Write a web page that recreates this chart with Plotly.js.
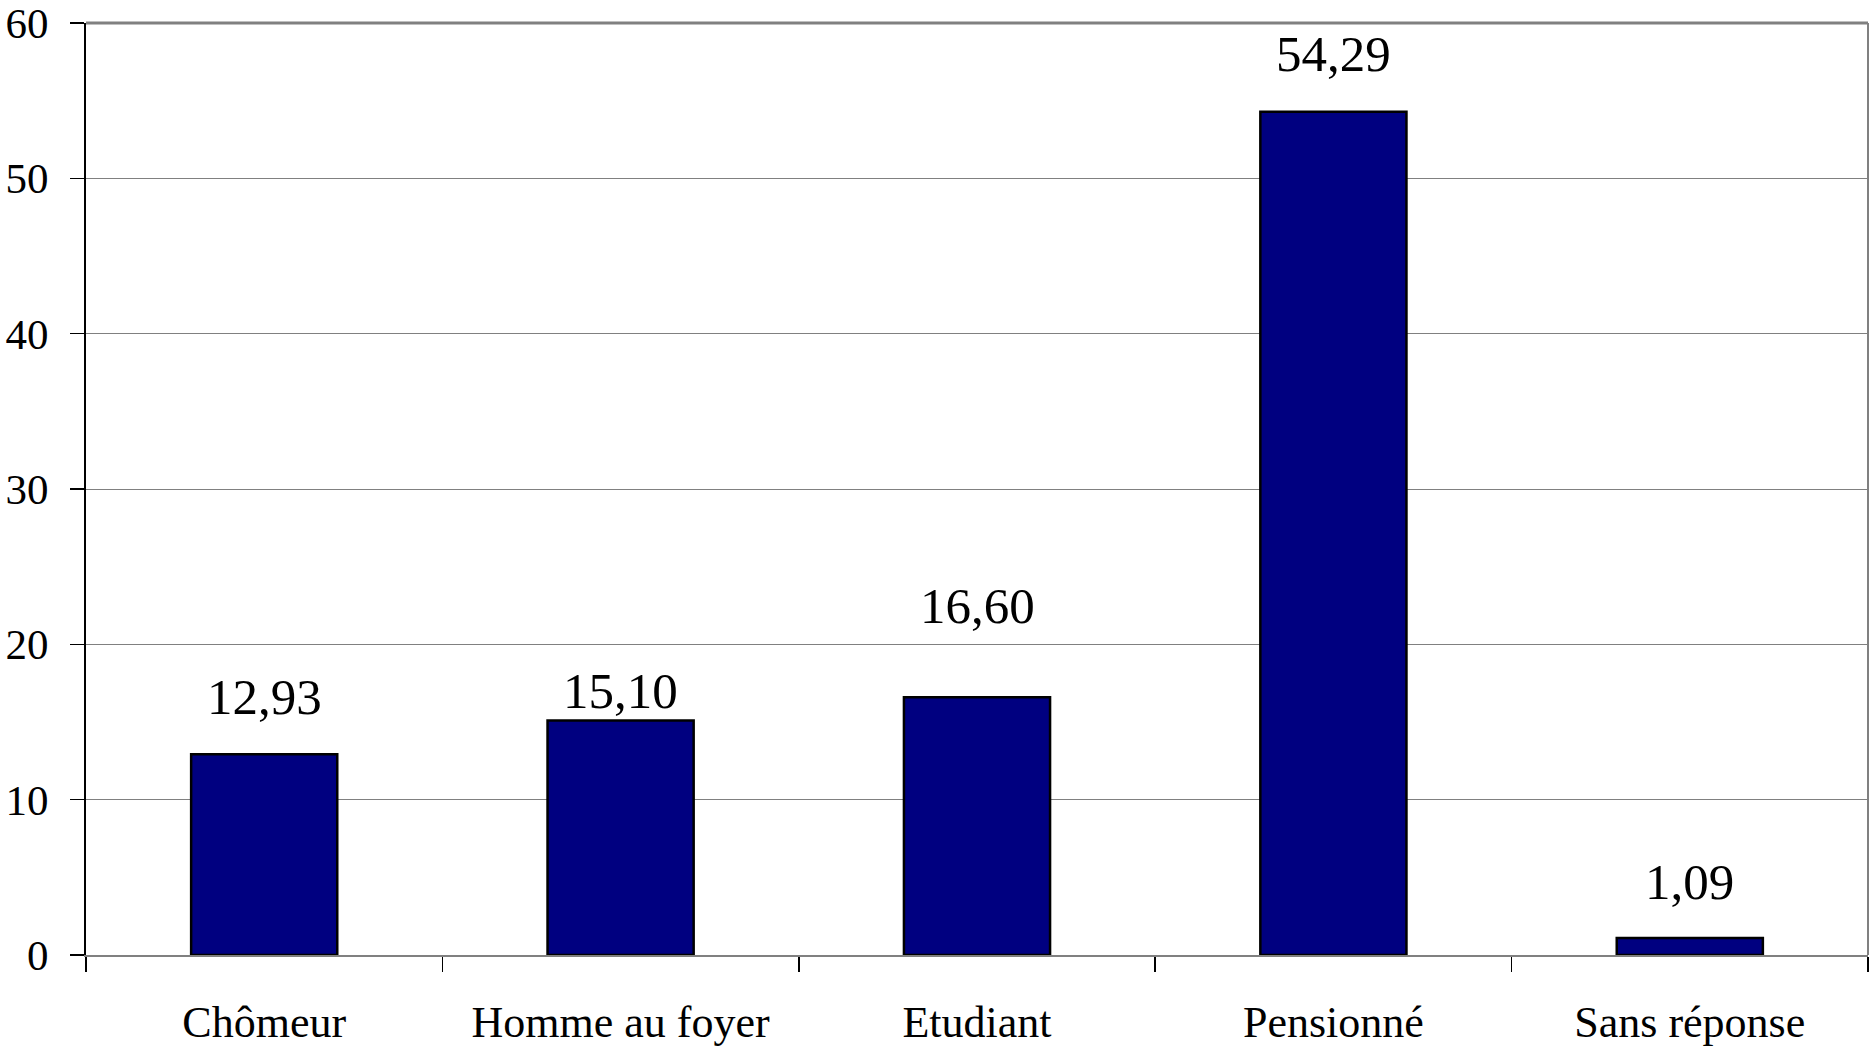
<!DOCTYPE html>
<html>
<head>
<meta charset="utf-8">
<script src="https://cdn.plot.ly/plotly-3.0.1.min.js"></script>
<style>html,body{margin:0;padding:0;background:#fff;}#chart{width:1872px;height:1047px;}</style>
</head>
<body>
<div id="chart"></div>
<script>
const categories = ["Chômeur", "Homme au foyer", "Etudiant", "Pensionné", "Sans réponse"];
const values = [12.93, 15.10, 16.60, 54.29, 1.09];
const valueLabels = ["12,93", "15,10", "16,60", "54,29", "1,09"];
const yTicks = [0, 10, 20, 30, 40, 50, 60];

// label offsets above bar tops (pixels) – styling, as positioned in the original
const labelShift = [57, 29, 91, 58, 56];

const font = "Liberation Serif, Times New Roman, serif";

const trace = {
  type: "bar",
  x: categories,
  y: values,
  marker: {color: "#000080", line: {color: "#000000", width: 2.5}},
  width: 0.41,
  hoverinfo: "none"
};

const annotations = categories.map((c, i) => ({
  x: c, y: values[i], xref: "x", yref: "y",
  text: valueLabels[i], showarrow: false,
  yanchor: "middle", yshift: labelShift[i],
  font: {family: font, size: 51, color: "#000"}
}));

const layout = {
  width: 1872, height: 1047,
  margin: {l: 86, r: 4, t: 23, b: 92, pad: 0},
  paper_bgcolor: "#fff", plot_bgcolor: "#fff",
  showlegend: false,
  font: {family: font, color: "#000"},
  xaxis: {
    type: "category",
    showgrid: false,
    showline: true, linecolor: "#808080", linewidth: 2,
    ticks: "outside", ticklen: 15, tickcolor: "#000", tickwidth: 1.5,
    tickson: "boundaries",
    tickfont: {family: font, size: 44, color: "#000"},
    ticklabelstandoff: 27,
    fixedrange: true
  },
  yaxis: {
    range: [0, 60],
    tickvals: yTicks,
    ticktext: yTicks.map(String),
    showgrid: true, gridcolor: "#808080", gridwidth: 1,
    zeroline: false,
    showline: true, linecolor: "#000", linewidth: 2,
    ticks: "outside", ticklen: 14, tickcolor: "#000", tickwidth: 1.5,
    tickfont: {family: font, size: 43, color: "#000"},
    ticklabelstandoff: 13,
    fixedrange: true
  },
  shapes: [
    {type: "line", xref: "paper", yref: "paper", x0: 0, x1: 1, y0: 1, y1: 1, line: {color: "#808080", width: 3}},
    {type: "line", xref: "paper", yref: "paper", x0: 1, x1: 1, y0: 0, y1: 1, line: {color: "#808080", width: 2}}
  ],
  annotations: annotations,
  bargap: 0.59
};

Plotly.newPlot("chart", [trace], layout, {displayModeBar: false, staticPlot: true});
</script>
</body>
</html>
